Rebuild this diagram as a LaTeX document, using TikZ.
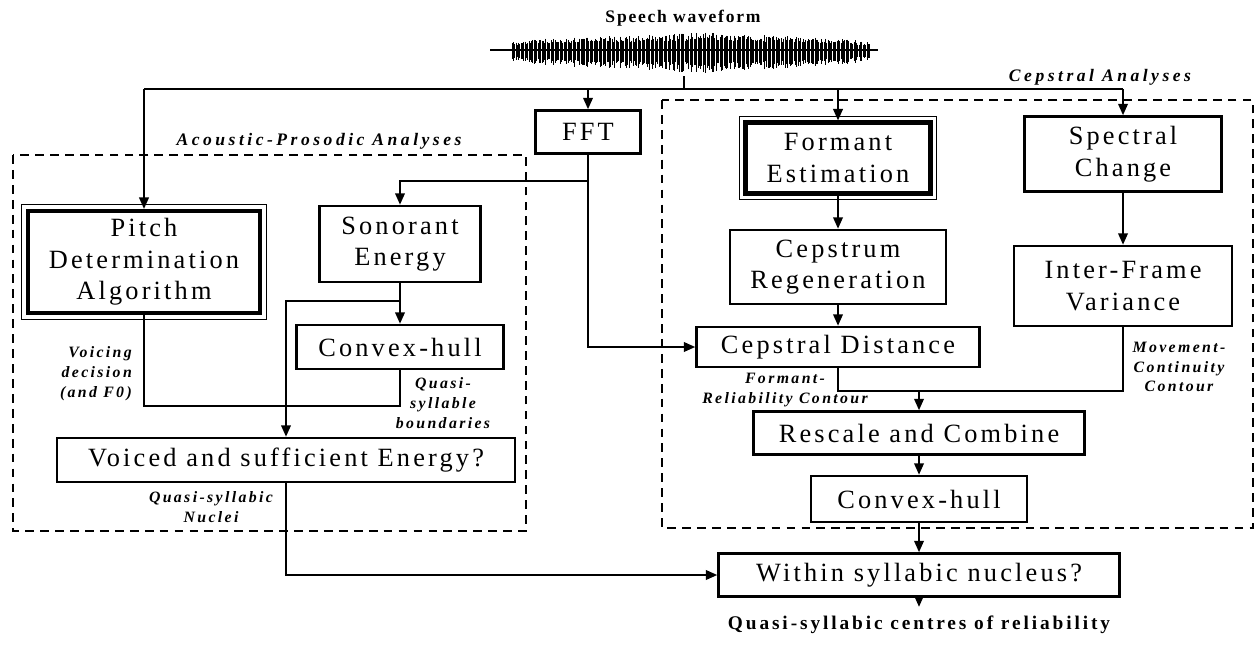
\documentclass[tikz,border=0pt]{standalone}
\usepackage{fontspec}
\setmainfont{Liberation Serif}
\newfontfamily\boxfont[LetterSpace=12]{Liberation Serif}
\newfontfamily\notefont[LetterSpace=15]{Liberation Serif Bold Italic}
\newfontfamily\headfont[LetterSpace=12]{Liberation Serif Bold}
\usetikzlibrary{arrows.meta}

\begin{document}
\begin{tikzpicture}[x=0.02cm, y=-0.02cm,
    box/.style={draw, line width=1.5pt, align=center, inner sep=0pt, font=\boxfont\fontsize{15}{18}\selectfont},
    heavy/.style={box, line width=2.4pt},
    group/.style={draw, line width=1.4pt, dash pattern=on 5pt off 3.5pt},
    note/.style={align=center, font=\notefont\fontsize{9}{11.3}\selectfont},
    title/.style={font=\notefont\addfontfeature{LetterSpace=20}\fontsize{10}{12}\selectfont},
    link/.style={line width=1pt},
    arr/.style={link, -{Triangle[length=6.5pt, width=5.5pt]}}]
  \useasboundingbox (0,0) rectangle (1256,646);
  % Speech waveform
  \node[font=\headfont\addfontfeature{LetterSpace=10}\fontsize{10}{12}\selectfont] (wavelab) at (683,18) {Speech waveform};
  \pgfmathsetseed{11}
  \draw[line width=0.6pt] (490,50) -- (878,50);
  \foreach \x in {512,513.3,...,870} {
    \pgfmathsetmacro\a{(1+19*sqrt(sqrt(sin((\x-505)*0.4865)))+5/(1+((\x-705)/20)^2))*(0.55+0.45*rnd)}
    \draw[line width=0.4pt] (\x,{50-0.75*\a}) -- (\x,{50+\a});
  }
  \coordinate (wave) at (684,76);
  \coordinate (bus) at (684,89);
  % Analysis groups
  \draw[group] (13,155) rectangle (526,531);
  \draw[group] (662,100) rectangle (1253,528);
  \node[title] (aplab) at (319,141) {Acoustic-Prosodic Analyses};
  \node[title] (cplab) at (1100,77) {Cepstral Analyses};
  % Acoustic-prosodic boxes
  \node[heavy, minimum width=4.64cm, minimum height=2.04cm] (pitch) at (144,262) {Pitch\\Determination\\Algorithm};
  \draw[line width=0.5pt] ([shift={(-2.4pt,2.4pt)}]pitch.north west) rectangle ([shift={(2.4pt,-2.4pt)}]pitch.south east);
  \node[box, minimum width=3.22cm, minimum height=1.52cm] (sonorant) at (400,244) {Sonorant\\Energy};
  \node[box, minimum width=4.14cm, minimum height=0.88cm] (hullL) at (400,347) {Convex-hull};
  \node[box, minimum width=9.16cm, minimum height=0.88cm] (voiced) at (286,460) {Voiced and sufficient Energy?};
  \node[box, minimum width=2.1cm, minimum height=0.86cm] (fft) at (588,132) {FFT};
  % Cepstral boxes
  \node[heavy, minimum width=3.7cm, minimum height=1.42cm] (formant) at (838,158) {Formant\\Estimation};
  \draw[line width=0.5pt] ([shift={(-2.4pt,2.4pt)}]formant.north west) rectangle ([shift={(2.4pt,-2.4pt)}]formant.south east);
  \node[box, minimum width=4.32cm, minimum height=1.48cm] (cepstrum) at (838,267) {Cepstrum\\Regeneration};
  \node[box, minimum width=5.66cm, minimum height=0.8cm] (cepdist) at (838,347) {Cepstral Distance};
  \node[box, minimum width=3.94cm, minimum height=1.5cm] (spectral) at (1123,154) {Spectral\\Change};
  \node[box, minimum width=4.36cm, minimum height=1.6cm] (interframe) at (1123,286) {Inter-Frame\\Variance};
  \node[box, minimum width=6.62cm, minimum height=0.86cm] (rescale) at (919,433) {Rescale and Combine};
  \node[box, minimum width=4.32cm, minimum height=0.92cm] (hullR) at (919,499) {Convex-hull};
  \node[box, minimum width=8.02cm, minimum height=0.86cm] (within) at (919,575) {Within syllabic nucleus?};
  \node[font=\headfont\addfontfeature{LetterSpace=15}\fontsize{11}{13}\selectfont] (centres) at (919,625) {Quasi-syllabic centres of reliability};
  % Contour labels
  \node[note, align=right, anchor=east] (voicing) at (138,374) {Voicing\\decision\\(and F0)};
  \node[note] (qsb) at (443,403) {Quasi-\\syllable\\boundaries};
  \node[note] (qsn) at (211,507) {Quasi-syllabic\\Nuclei};
  \node[note] (frc) at (785,390) {Formant-\\Reliability Contour};
  \node[note] (mcc) at (1179,367) {Movement-\\Continuity\\Contour};
  % Connectors
  \draw[link] (wave) -- (bus);
  \draw[link] (pitch.north |- bus) -- (spectral.north |- bus);
  \foreach \n in {pitch, fft, formant, spectral}
    \draw[arr] (\n.north |- bus) -- (\n.north);
  \draw[arr] (fft.south) |- (cepdist.west);
  \draw[arr] (fft.south) ++(0,26) -| (sonorant.north);
  \draw[arr] (sonorant.south) -- (hullL.north);
  \draw[arr] (sonorant.south) ++(0,18) -| (voiced.north);
  \draw[link] (pitch.south) -- ++(0,91) -| (hullL.south);
  \draw[arr] (voiced.south) |- (within.west);
  \draw[arr] (formant.south) -- (cepstrum.north);
  \draw[arr] (cepstrum.south) -- (cepdist.north);
  \draw[arr] (spectral.south) -- (interframe.north);
  \draw[link] (cepdist.south) -- ++(0,23) coordinate (merge) -| (interframe.south);
  \draw[arr] (merge -| rescale.north) -- (rescale.north);
  \draw[arr] (rescale.south) -- (hullR.north);
  \draw[arr] (hullR.south) -- (within.north);
  \draw[arr] (within.south) -- ++(0,9);
\end{tikzpicture}
\end{document}
